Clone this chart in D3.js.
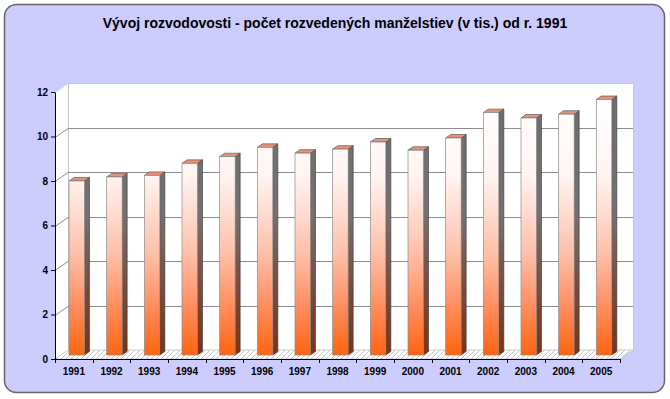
<!DOCTYPE html>
<html>
<head>
<meta charset="utf-8">
<script src="https://cdn.jsdelivr.net/npm/d3@7"></script>
<style>
body { margin: 0; background: #fff; }
svg { display: block; font-family: "Liberation Sans", Arial, sans-serif; }
.axis text { font-size: 10px; font-weight: bold; fill: #000; }
.axis path, .axis line { stroke: #000; }
</style>
</head>
<body>
<svg></svg>
<script>
var width = 670,
    height = 399;

var title = "Vývoj rozvodovosti - počet rozvedených manželstiev (v tis.) od r. 1991";
var years = ["1991", "1992", "1993", "1994", "1995", "1996", "1997", "1998",
             "1999", "2000", "2001", "2002", "2003", "2004", "2005"];
var divorces = [7.89, 8.07, 8.14, 8.68, 8.98, 9.40, 9.14, 9.32,
                9.64, 9.27, 9.82, 10.96, 10.72, 10.89, 11.55];
var yTicks = [0, 2, 4, 6, 8, 10, 12];

// 3d offsets of the walls and of the bars
var depthX = 13, depthY = 9;
var barDX = 5, barDY = 3.5;

var svg = d3.select("svg")
    .attr("width", width)
    .attr("height", height);

var x = d3.scaleBand()
    .domain(years)
    .range([55, 620]);

var y = d3.scaleLinear()
    .domain([0, 12])
    .range([359, 92]);

var defs = svg.append("defs");

var front = defs.append("linearGradient")
    .attr("id", "front")
    .attr("gradientUnits", "userSpaceOnUse")
    .attr("x1", 0).attr("y1", 100)
    .attr("x2", 0).attr("y2", 355);
front.append("stop").attr("offset", 0).attr("stop-color", "#ffffff");
front.append("stop").attr("offset", 0.3).attr("stop-color", "#fff4f2");
front.append("stop").attr("offset", 0.6).attr("stop-color", "#ffc0aa");
front.append("stop").attr("offset", 0.8).attr("stop-color", "#ff9062");
front.append("stop").attr("offset", 1).attr("stop-color", "#ff6410");

var side = defs.append("linearGradient")
    .attr("id", "side")
    .attr("gradientUnits", "userSpaceOnUse")
    .attr("x1", 0).attr("y1", 100)
    .attr("x2", 0).attr("y2", 355);
side.append("stop").attr("offset", 0).attr("stop-color", "#6e6e6e");
side.append("stop").attr("offset", 0.45).attr("stop-color", "#767070");
side.append("stop").attr("offset", 0.75).attr("stop-color", "#7a4a3a");
side.append("stop").attr("offset", 1).attr("stop-color", "#7a3416");

var hatch = defs.append("pattern")
    .attr("id", "hatch")
    .attr("patternUnits", "userSpaceOnUse")
    .attr("width", 5).attr("height", 5);
hatch.append("rect").attr("width", 5).attr("height", 5).attr("fill", "#fff");
hatch.append("path")
    .attr("d", "M0,5L5,0M-1,1L1,-1M4,6L6,4")
    .attr("stroke", "#b4b4b4")
    .attr("stroke-width", 0.8);

// background panel
svg.append("rect")
    .attr("x", 4.5).attr("y", 4.5)
    .attr("width", 660).attr("height", 388)
    .attr("rx", 12).attr("ry", 12)
    .attr("fill", "#ccccff")
    .attr("stroke", "#666")
    .attr("stroke-width", 1.5);

svg.append("text")
    .attr("x", width / 2)
    .attr("y", 28)
    .attr("text-anchor", "middle")
    .style("font-size", "14px")
    .style("font-weight", "bold")
    .text(title);

var x0 = x.range()[0], x1 = x.range()[1];
var yTop = y(12), yBase = y(0);

// left wall
svg.append("path")
    .attr("d", "M" + x0 + "," + yBase + "L" + x0 + "," + yTop +
               "L" + (x0 + depthX) + "," + (yTop - depthY) +
               "L" + (x0 + depthX) + "," + (yBase - depthY) + "Z")
    .attr("fill", "#fff");

// back wall
svg.append("rect")
    .attr("x", x0 + depthX + 0.5)
    .attr("y", yTop - depthY + 0.5)
    .attr("width", x1 - x0)
    .attr("height", yBase - yTop)
    .attr("fill", "#fff")
    .attr("stroke", "#c8c8c8");

// floor
svg.append("path")
    .attr("d", "M" + x0 + "," + yBase + "L" + x1 + "," + yBase +
               "L" + (x1 + depthX) + "," + (yBase - depthY) +
               "L" + (x0 + depthX) + "," + (yBase - depthY) + "Z")
    .attr("fill", "url(#hatch)")
    .attr("stroke", "#c0c0c0")
    .attr("stroke-width", 0.8);

// gridlines: diagonal on the left wall and horizontal on the back wall
var grid = svg.append("g").attr("class", "grid");
grid.selectAll("path")
    .data(yTicks.filter(function (d) { return d > 0; }))
    .enter()
    .append("path")
    .attr("d", function (d) {
        var yy = Math.round(y(d)) + 0.5;
        return "M" + x0 + "," + yy + "L" + (x0 + depthX) + "," + (yy - depthY) +
               "L" + (x1 + depthX) + "," + (yy - depthY);
    })
    .attr("fill", "none")
    .attr("stroke", function (d) { return d === 12 ? "#c8c8c8" : "#8c8c8c"; })
    .attr("stroke-width", 1);

// bars
var barW = 15.5, barOff = 14;
var bars = svg.append("g").attr("class", "bars")
    .selectAll("g")
    .data(divorces)
    .enter()
    .append("g");

function bx(d, i) { return x(years[i]) + barOff; }
function bTop(d) { return y(d) - 2.5; }
var bBot = yBase - 4;

bars.append("path")
    .attr("d", function (d, i) {
        var l = bx(d, i) + barW, t = bTop(d);
        return "M" + l + "," + t + "L" + (l + barDX) + "," + (t - barDY) +
               "L" + (l + barDX) + "," + (bBot - barDY) + "L" + l + "," + bBot + "Z";
    })
    .attr("fill", "url(#side)")
    .attr("stroke", "#333")
    .attr("stroke-width", 0.6);

bars.append("path")
    .attr("d", function (d, i) {
        var l = bx(d, i), t = bTop(d);
        return "M" + l + "," + t + "L" + (l + barW) + "," + t +
               "L" + (l + barW + barDX) + "," + (t - barDY) +
               "L" + (l + barDX) + "," + (t - barDY) + "Z";
    })
    .attr("fill", "#e8907a")
    .attr("stroke", "#444")
    .attr("stroke-width", 0.6);

bars.append("rect")
    .attr("x", bx)
    .attr("y", bTop)
    .attr("width", barW)
    .attr("height", function (d) { return bBot - bTop(d); })
    .attr("fill", "url(#front)")
    .attr("stroke", "#8a8a8a")
    .attr("stroke-width", 0.7);

// y axis
svg.append("g")
    .attr("class", "axis")
    .attr("transform", "translate(" + x0 + ",0)")
    .call(d3.axisLeft(y).tickValues(yTicks).tickSize(4).tickSizeOuter(0).tickPadding(3));

// x axis: labels centred, ticks on the category boundaries
var xAxis = svg.append("g")
    .attr("class", "axis")
    .attr("transform", "translate(0," + yBase + ")")
    .call(d3.axisBottom(x).tickSize(0).tickPadding(9));
xAxis.select(".domain").remove();

svg.append("line")
    .attr("x1", x0).attr("x2", x1)
    .attr("y1", yBase + 0.5).attr("y2", yBase + 0.5)
    .attr("stroke", "#000");

svg.append("g")
    .selectAll("line")
    .data(years.concat(["end"]))
    .enter()
    .append("line")
    .attr("x1", function (d, i) { return Math.round(x0 + i * x.step()) + 0.5; })
    .attr("x2", function (d, i) { return Math.round(x0 + i * x.step()) + 0.5; })
    .attr("y1", yBase)
    .attr("y2", yBase + 4)
    .attr("stroke", "#000");
</script>
</body>
</html>
